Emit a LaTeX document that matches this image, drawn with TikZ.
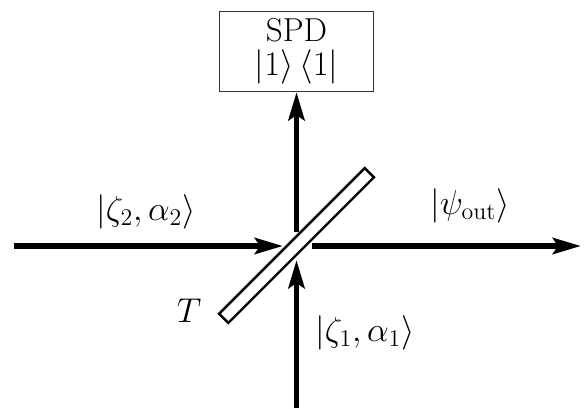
\documentclass[tikz,border=0pt]{standalone}
\usetikzlibrary{arrows.meta}
\newcommand{\biglab}[1]{\scalebox{1.66}{\huge #1}}
\tikzset{beam/.style={line width=5.6pt,-{Stealth[length=28pt,width=16pt,inset=5pt]}},lbl/.style={inner sep=0pt}}
\begin{document}
\begin{tikzpicture}[x=1pt,y=-1pt]
\useasboundingbox (0,0) rectangle (584,408);
\node[draw=black!80,line width=1.2pt,minimum width=154pt,minimum height=80pt,inner sep=0pt,align=center] (spd) at (296.5,51.5) {\scalebox{1.6}{\huge SPD}\\[7pt]\biglab{$|1\rangle\,\langle 1|$}};
\coordinate (bot) at (296.5,408);
\coordinate (belowbs) at (296.5,260);
\coordinate (abovebs) at (296.5,232);
\coordinate (l) at (14,246);
\coordinate (lend) at (283,246);
\coordinate (rstart) at (312,246);
\coordinate (r) at (581,246);
\draw[beam] (bot) -- (belowbs);
\draw[beam] (abovebs) -- (spd.south);
\draw[beam] (l) -- (lend);
\draw[beam] (rstart) -- (r);
\node[draw,fill=white,line width=2.4pt,minimum width=206pt,minimum height=13pt,inner sep=0pt,rotate=45] (bs) at (296.5,245.5) {};
\node[lbl] (t2) at (146,212) {\biglab{$|\zeta_2,\alpha_2\rangle$}};
\node[lbl] (t3) at (470,206) {\biglab{$|\psi_{\mathrm{out}}\rangle$}};
\node[lbl] (t1) at (365,333) {\biglab{$|\zeta_1,\alpha_1\rangle$}};
\node[lbl] (t4) at (189,311) {\biglab{$T$}};
\end{tikzpicture}
\end{document}
